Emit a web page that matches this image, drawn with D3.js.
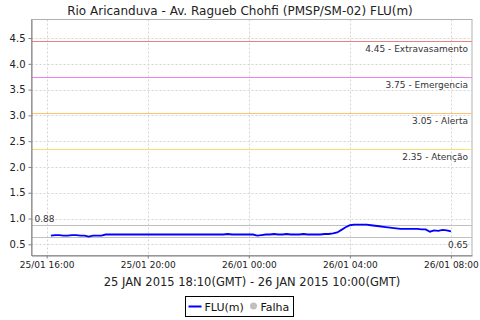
<!DOCTYPE html>
<html>
<head>
<meta charset="utf-8">
<script src="https://cdn.jsdelivr.net/npm/d3@7"></script>
<style>
  body { margin: 0; background: white; }
  text { font-family: "DejaVu Sans", sans-serif; }
</style>
</head>
<body>
<div id="chart"></div>
<script>
"use strict"

// series: FLU(m) every 10 minutes from 25/01 16:10 to 26/01 08:00 (local)
let startTime = new Date(2015, 0, 25, 16, 10);
let stepMinutes = 10;
let fluValues = [
  0.67, 0.68, 0.68, 0.67, 0.67, 0.68, 0.68, 0.67, 0.67, 0.65,
  0.67, 0.67, 0.67, 0.69, 0.69, 0.69, 0.69, 0.69, 0.69, 0.69,
  0.69, 0.69, 0.69, 0.69, 0.69, 0.69, 0.69, 0.69, 0.69, 0.69,
  0.69, 0.69, 0.69, 0.69, 0.69, 0.69, 0.69, 0.69, 0.69, 0.69,
  0.69, 0.69, 0.70, 0.69, 0.69, 0.69, 0.69, 0.69, 0.69, 0.67,
  0.68, 0.69, 0.69, 0.70, 0.69, 0.69, 0.70, 0.69, 0.69, 0.69,
  0.70, 0.69, 0.69, 0.69, 0.69, 0.70, 0.70, 0.71, 0.73, 0.78,
  0.83, 0.87, 0.88, 0.88, 0.88, 0.88, 0.87, 0.86, 0.85, 0.84,
  0.83, 0.82, 0.81, 0.80, 0.80, 0.80, 0.80, 0.80, 0.79, 0.79,
  0.745, 0.77, 0.76, 0.78, 0.77, 0.75
];

// alert levels
let levelValues = [4.45, 3.75, 3.05, 2.35];
let levelNames = ["Extravasamento", "Emergencia", "Alerta", "Atenção"];
let levelColors = ["#f08080", "#ee82ee", "#ffc070", "#f8e070"];

let yTicks = [0.5, 1.0, 1.5, 2.0, 2.5, 3.0, 3.5, 4.0, 4.5];
let xTicks = [
  new Date(2015, 0, 25, 16, 0),
  new Date(2015, 0, 25, 20, 0),
  new Date(2015, 0, 26, 0, 0),
  new Date(2015, 0, 26, 4, 0),
  new Date(2015, 0, 26, 8, 0)
];

let titleText = "Rio Aricanduva - Av. Ragueb Chohfi (PMSP/SM-02) FLU(m)";
let axisText = "25 JAN 2015 18:10(GMT) - 26 JAN 2015 10:00(GMT)";

let points = fluValues.map((v, i) => ({
  t: new Date(startTime.getTime() + i * stepMinutes * 60000),
  v: v
}));

let width = 480, height = 320;
let plot = { left: 31.5, right: 472, top: 19.5, bottom: 255.5 };

let svg = d3.select("#chart").append("svg")
  .attr("width", width)
  .attr("height", height);

let xScale = d3.scaleTime()
  .domain([new Date(2015, 0, 25, 15, 24), new Date(2015, 0, 26, 8, 50)])
  .range([plot.left, plot.right]);

let yScale = d3.scaleLinear()
  .domain([0.283, 4.86])
  .range([plot.bottom, plot.top]);

// grid
svg.append("g").selectAll("line").data(yTicks).join("line")
  .attr("x1", plot.left).attr("x2", plot.right)
  .attr("y1", d => Math.round(yScale(d)) + 0.5)
  .attr("y2", d => Math.round(yScale(d)) + 0.5)
  .style("stroke", "#d4d4d4")
  .style("stroke-dasharray", "2,2");

svg.append("g").selectAll("line").data(xTicks).join("line")
  .attr("x1", d => Math.round(xScale(d)) + 0.5)
  .attr("x2", d => Math.round(xScale(d)) + 0.5)
  .attr("y1", plot.top).attr("y2", plot.bottom)
  .style("stroke", "#d4d4d4")
  .style("stroke-dasharray", "2,2");

// plot outline
svg.append("rect")
  .attr("x", plot.left).attr("y", plot.top)
  .attr("width", plot.right - plot.left)
  .attr("height", plot.bottom - plot.top)
  .style("fill", "none")
  .style("stroke", "#b0b0b0");

// alert levels
levelValues.forEach((v, i) => {
  let y = Math.round(yScale(v)) + 0.5;
  svg.append("line")
    .attr("x1", plot.left).attr("x2", plot.right)
    .attr("y1", y).attr("y2", y)
    .style("stroke", levelColors[i]);
  svg.append("text")
    .attr("x", plot.right - 4)
    .attr("y", y + 10)
    .attr("text-anchor", "end")
    .style("font-size", "9px")
    .style("fill", "#333")
    .text(v.toFixed(2) + " - " + levelNames[i]);
});

// max / min markers
let maxV = d3.max(fluValues), minV = d3.min(fluValues);
let yMax = Math.round(yScale(maxV)) + 0.5;
let yMin = Math.round(yScale(minV)) + 0.5;
svg.append("line")
  .attr("x1", plot.left).attr("x2", plot.right)
  .attr("y1", yMax).attr("y2", yMax)
  .style("stroke", "#c0c0c0");
svg.append("line")
  .attr("x1", plot.left).attr("x2", plot.right)
  .attr("y1", yMin).attr("y2", yMin)
  .style("stroke", "#c0c0c0");
svg.append("text")
  .attr("x", plot.left + 3).attr("y", yMax - 4)
  .style("font-size", "9px").style("fill", "#333")
  .text(maxV.toFixed(2));
svg.append("text")
  .attr("x", plot.right - 4).attr("y", yMin + 10)
  .attr("text-anchor", "end")
  .style("font-size", "9px").style("fill", "#333")
  .text(minV.toFixed(2));

// axes
let yAxis = svg.append("g")
  .attr("transform", "translate(" + plot.left + ",0)")
  .call(d3.axisLeft(yScale).tickValues(yTicks).tickFormat(d3.format(".1f")).tickSize(3).tickSizeOuter(0));
yAxis.select(".domain").style("stroke", "#808080");
yAxis.selectAll(".tick line").style("stroke", "#808080");
yAxis.selectAll(".tick text")
  .style("font-size", "10px")
  .style("font-family", "DejaVu Sans")
  .style("fill", "#222")
  .attr("x", -6);

let xAxis = svg.append("g")
  .attr("transform", "translate(0," + plot.bottom + ")")
  .call(d3.axisBottom(xScale).tickValues(xTicks).tickFormat(d3.timeFormat("%d/%m %H:%M")).tickSize(3).tickSizeOuter(0));
xAxis.select(".domain").style("stroke", "#808080");
xAxis.selectAll(".tick line").style("stroke", "#808080");
xAxis.selectAll(".tick text")
  .style("font-size", "9px")
  .style("font-family", "DejaVu Sans")
  .style("fill", "#222")
  .attr("y", 6);

// series line
svg.append("path")
  .datum(points)
  .attr("d", d3.line().x(d => xScale(d.t)).y(d => yScale(d.v)))
  .style("fill", "none")
  .style("stroke", "#0000ff")
  .style("stroke-width", 1.8);

// titles
svg.append("text")
  .attr("x", 240).attr("y", 15)
  .attr("text-anchor", "middle")
  .style("font-size", "12px")
  .style("fill", "#222")
  .text(titleText);

svg.append("text")
  .attr("x", 252).attr("y", 286)
  .attr("text-anchor", "middle")
  .style("font-size", "11.5px")
  .style("fill", "#222")
  .text(axisText);

// legend
let legend = svg.append("g").attr("transform", "translate(185.5,296.5)");
legend.append("rect")
  .attr("width", 108).attr("height", 20)
  .style("fill", "white")
  .style("stroke", "black");
legend.append("line")
  .attr("x1", 3).attr("x2", 16).attr("y1", 10).attr("y2", 10)
  .style("stroke", "#0000ff").style("stroke-width", 2);
legend.append("text")
  .attr("x", 19).attr("y", 14.5)
  .style("font-size", "11px").style("fill", "#111")
  .text("FLU(m)");
legend.append("circle")
  .attr("cx", 68).attr("cy", 9.5).attr("r", 3.5)
  .style("fill", "#c0c0c0");
legend.append("text")
  .attr("x", 75).attr("y", 14.5)
  .style("font-size", "11px").style("fill", "#111")
  .text("Falha");
</script>
</body>
</html>
